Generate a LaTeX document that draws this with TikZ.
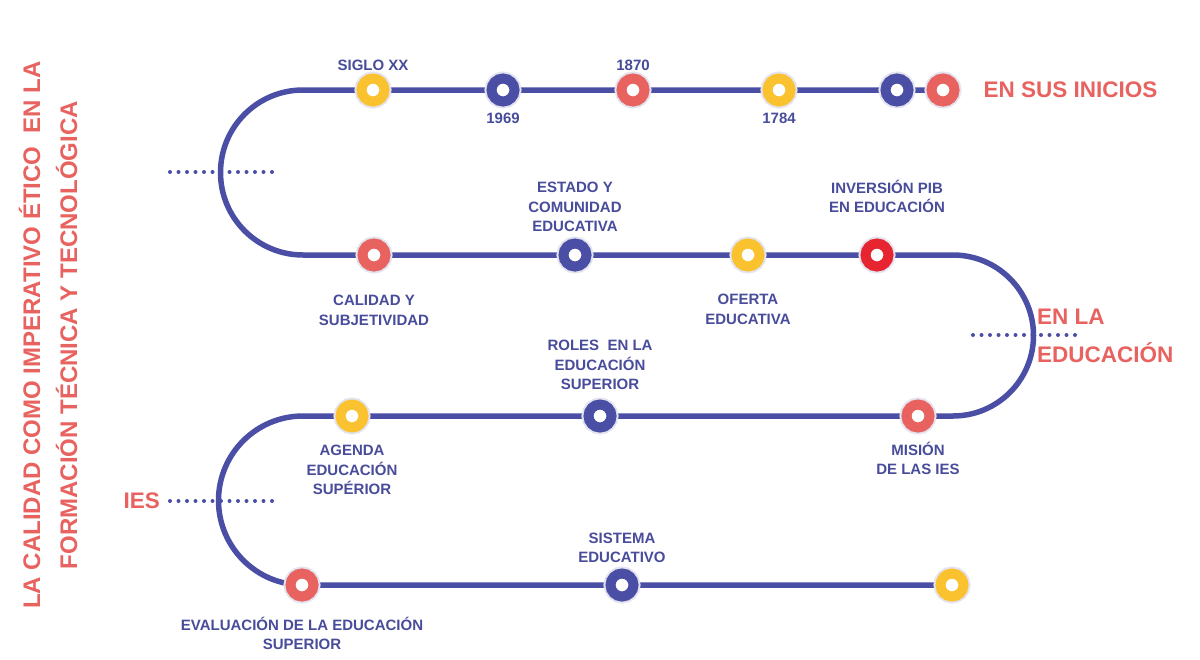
\documentclass[tikz,border=0pt]{standalone}
\usepackage{fontspec}
\setmainfont{Liberation Sans}
\usetikzlibrary{positioning,backgrounds}
\definecolor{navy}{HTML}{4A4FA5}
\definecolor{ink}{HTML}{484C9A}
\definecolor{salmon}{HTML}{E8625F}
\definecolor{sunny}{HTML}{FBC22F}
\definecolor{signal}{HTML}{E62530}
\definecolor{halo}{HTML}{E4E4F0}
\tikzset{
  track/.style={line width=5.5pt,draw=navy},
  hole/.style={circle,minimum size=23pt,inner sep=0pt,fill=white,draw=#1,line width=10pt,
    preaction={draw=halo,line width=14pt}},
  tag/.style={text=ink,font=\bfseries\fontsize{15}{19.5}\selectfont,align=center,inner sep=0pt},
  head/.style={text=salmon,font=\bfseries\fontsize{22.5}{38}\selectfont,align=left,inner sep=0pt},
  dots/.style={draw=navy,line width=4pt,line cap=round,dash pattern=on 0pt off 8.5pt}
}

\begin{document}
\begin{tikzpicture}[x=1pt,y=-1pt]
  \useasboundingbox (0,0) rectangle (1200,659);
  % stations, row by row
  \node[hole=sunny]  (c11) at (373,90) {};
  \node[hole=navy]   (c12) at (503,90) {};
  \node[hole=salmon] (c13) at (633,90) {};
  \node[hole=sunny]  (c14) at (779,90) {};
  \node[hole=navy]   (c15) at (897,90) {};
  \node[hole=salmon] (c16) at (943,90) {};
  \node[hole=salmon] (c21) at (374,255) {};
  \node[hole=navy]   (c22) at (575,255) {};
  \node[hole=sunny]  (c23) at (748,255) {};
  \node[hole=signal] (c24) at (877,255) {};
  \node[hole=sunny]  (c31) at (352,416) {};
  \node[hole=navy]   (c32) at (600,416) {};
  \node[hole=salmon] (c33) at (918,416) {};
  \node[hole=salmon] (c41) at (302,585) {};
  \node[hole=navy]   (c42) at (622,585) {};
  \node[hole=sunny]  (c43) at (952,585) {};
  \coordinate (bendA) at (303,90);
  \coordinate (bendB) at (953,255);
  \coordinate (bendC) at (303,416);
  \coordinate (dA1) at (170,172);
  \coordinate (dA2) at (273,172);
  \coordinate (dB1) at (973,335);
  \coordinate (dB2) at (1077,335);
  \coordinate (dC1) at (170,501);
  \coordinate (dC2) at (273,501);

  % labels
  \node[tag,above=2.6pt of c11] (tSiglo) {SIGLO XX};
  \node[tag,below=6.6pt of c12] (t1969) {1969};
  \node[tag,above=2.6pt of c13] (t1870) {1870};
  \node[tag,below=6.6pt of c14] (t1784) {1784};
  \node[head,right=24pt of c16] (tInicios) {EN SUS INICIOS};
  \node[tag,below=23.6pt of c21] (tCalidad) {CALIDAD Y\\SUBJETIVIDAD};
  \node[tag,above=6.6pt of c22] (tEstado) {ESTADO Y\\COMUNIDAD\\EDUCATIVA};
  \node[tag,below=22.6pt of c23] (tOferta) {OFERTA\\EDUCATIVA};
  \node[tag,above=25.6pt of c24,xshift=10pt] (tPib) {INVERSIÓN PIB\\EN EDUCACIÓN};
  \node[head,anchor=west] (tEnLa) at (1037,336) {EN LA\\EDUCACIÓN};
  \node[tag,below=12.6pt of c31] (tAgenda) {AGENDA\\EDUCACIÓN\\SUPÉRIOR};
  \node[tag,above=9.6pt of c32] (tRoles) {ROLES\ \ EN LA\\EDUCACIÓN\\SUPERIOR};
  \node[tag,below=9.4pt of c33] (tMision) {MISIÓN\\DE LAS IES};
  \node[tag,above=5.6pt of c42] (tSistema) {SISTEMA\\EDUCATIVO};
  \node[tag,below=15.4pt of c41] (tEvaluacion) {EVALUACIÓN DE LA EDUCACIÓN\\SUPERIOR};
  \node[head,left=10pt of dC1] (tIes) {IES};
  \node[text=salmon,font=\bfseries\fontsize{24}{37}\selectfont,align=center,rotate=90,inner sep=0pt]
    (title) at (48,335) {LA CALIDAD COMO IMPERATIVO ÉTICO\ \ EN LA\\FORMACIÓN TÉCNICA Y TECNOLÓGICA};

  \begin{pgfonlayer}{background}
    \fill[white] (0,0) rectangle (1200,659);
    \draw[dots] (dA1) -- (dA2);
    \draw[dots] (dB1) -- (dB2);
    \draw[dots] (dC1) -- (dC2);
    \draw[track] (c16) -- (c15) -- (c14) -- (c13) -- (c12) -- (c11) -- (bendA)
      arc[start angle=90,end angle=270,radius=82.5pt] -- (c21) -- (c22) -- (c23) -- (c24) -- (bendB)
      arc[start angle=90,end angle=-90,radius=80.5pt] -- (c33) -- (c32) -- (c31) -- (bendC)
      arc[start angle=90,end angle=270,radius=84.5pt] -- (c41) -- (c42) -- (c43);
  \end{pgfonlayer}
\end{tikzpicture}
\end{document}
